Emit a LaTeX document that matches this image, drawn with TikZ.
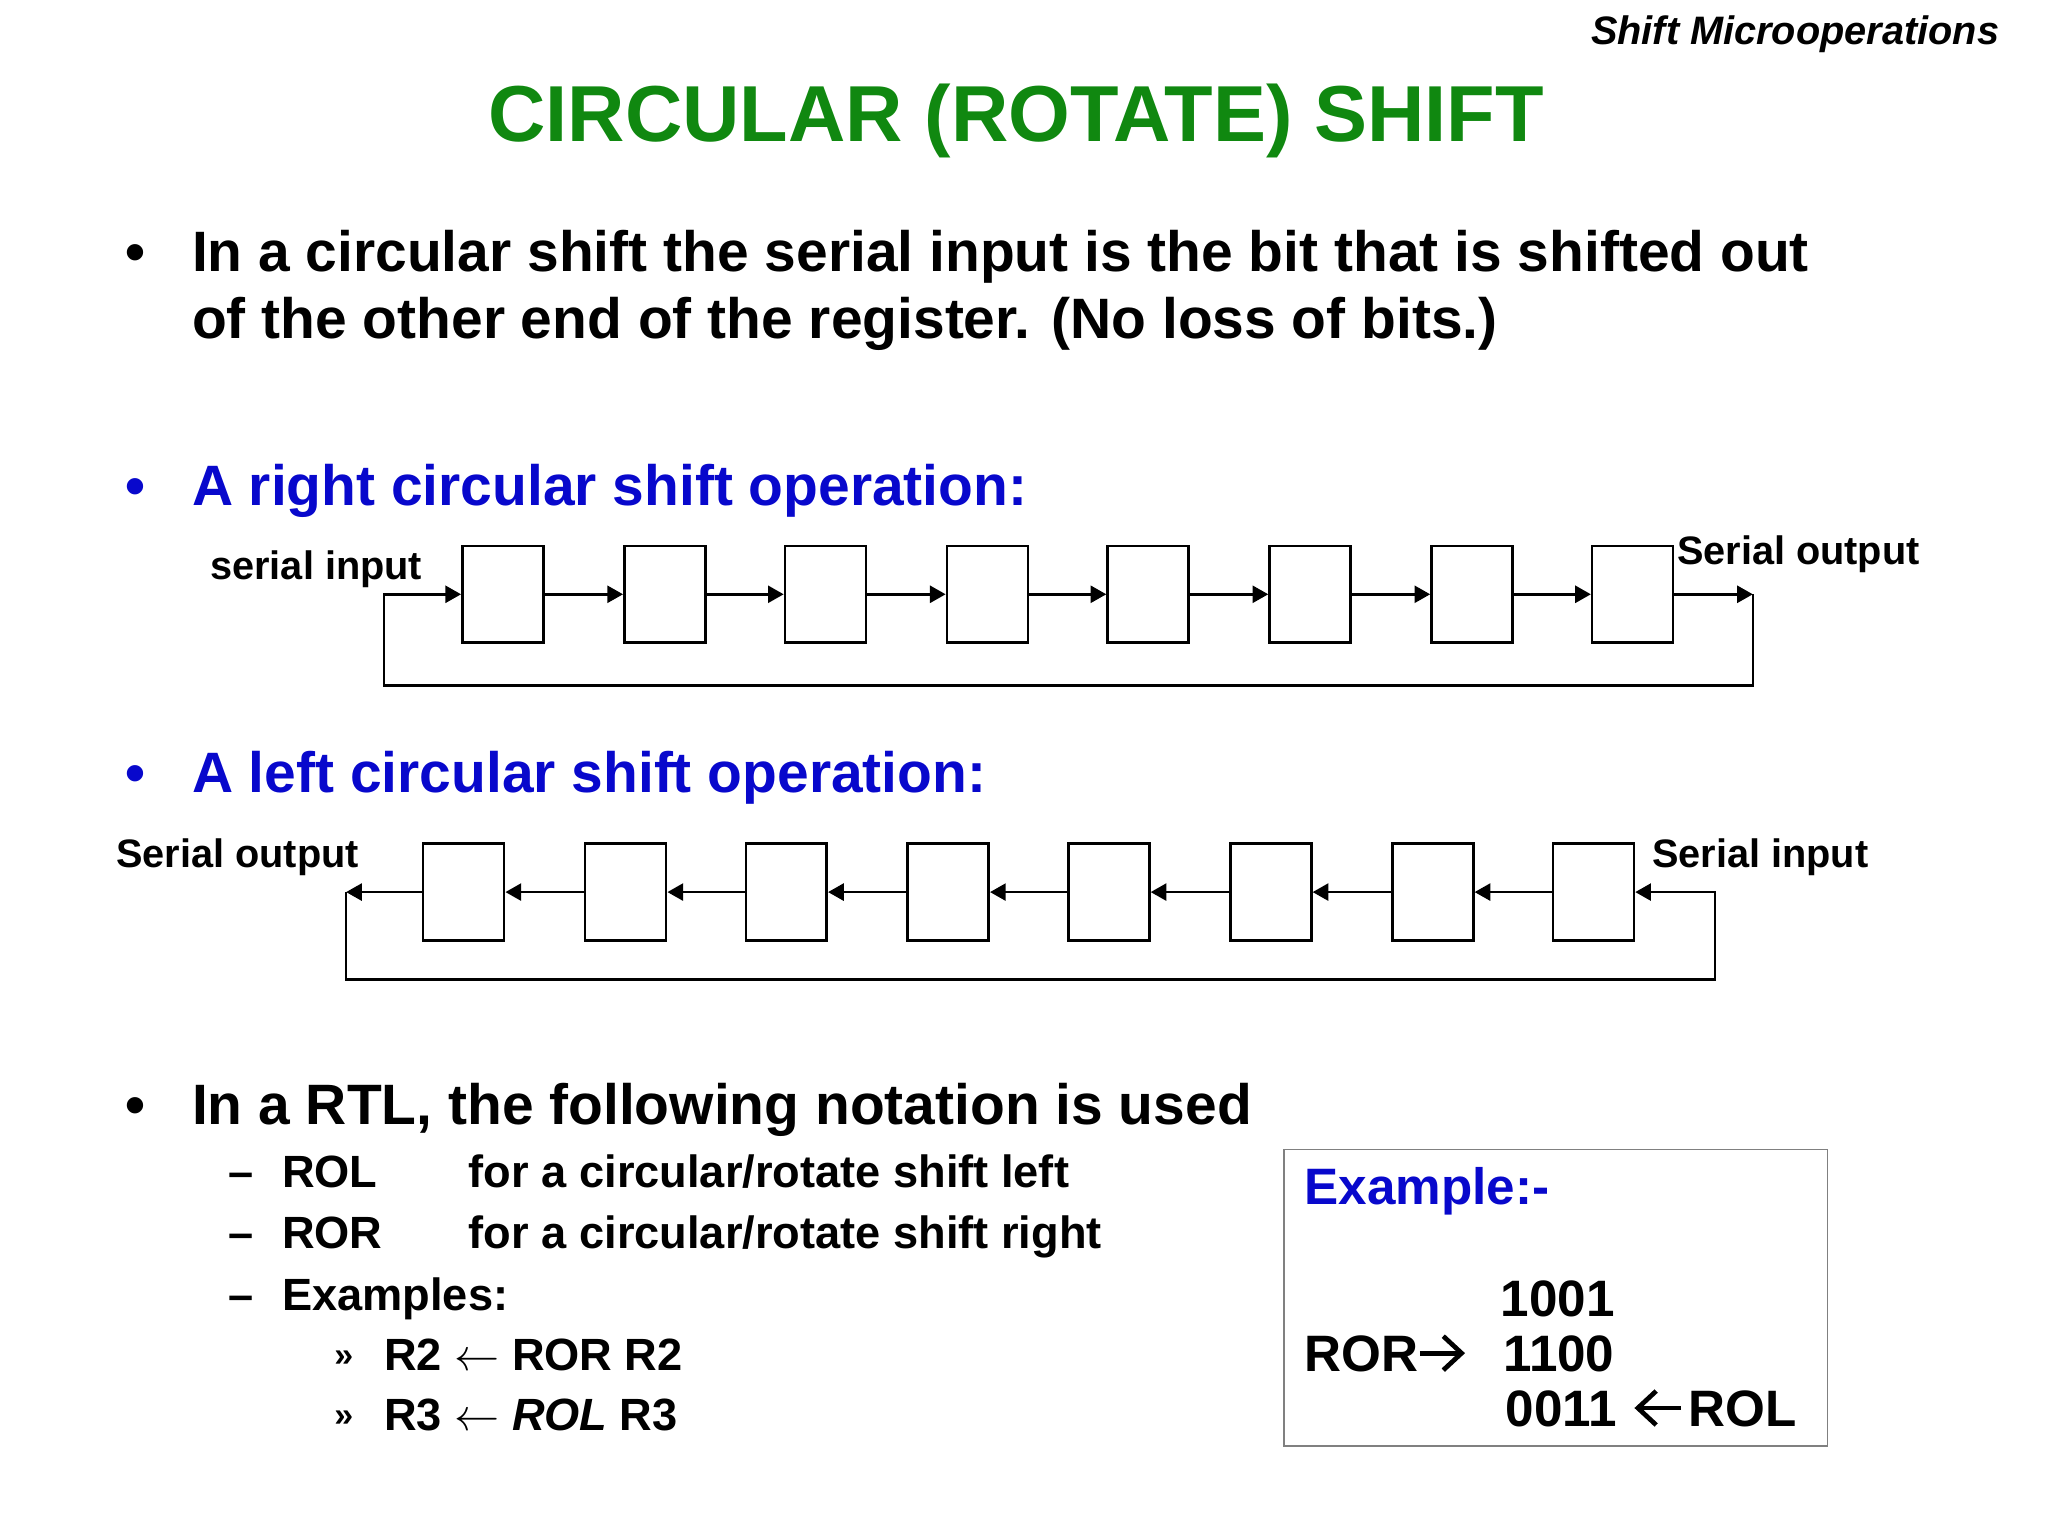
\documentclass[tikz,border=0pt]{standalone}
\usepackage{fontspec}
\setmainfont{Liberation Sans}
\usetikzlibrary{arrows.meta}
\definecolor{ttlgreen}{RGB}{16,136,16}
\definecolor{hdblue}{RGB}{8,8,204}
\begin{document}
\begin{tikzpicture}[x=0.5pt,y=-0.5pt,
  txt/.style={anchor=base west,inner sep=0pt,outer sep=0pt},
  fbul/.style={font=\bfseries\fontsize{21.8pt}{26pt}\selectfont},
  flab/.style={font=\bfseries\fontsize{15.2pt}{18pt}\selectfont},
  fsub/.style={font=\bfseries\fontsize{17.3pt}{21pt}\selectfont},
  fexb/.style={font=\bfseries\fontsize{19.6pt}{23pt}\selectfont},
  reg/.style={draw,line width=1pt,minimum width=31pt,minimum height=37pt,inner sep=0pt},
  arr/.style={line width=1pt,-{Triangle[length=6pt,width=6.5pt]}},
  bigarrow/.style={line width=1.8pt,line join=miter,line cap=butt},
  bul/.style={anchor=base,inner sep=0pt,fbul}]
\useasboundingbox (0,0) rectangle (1568,1176);

% header and title
\node[anchor=base east,inner sep=0pt,font=\bfseries\itshape\fontsize{15.2pt}{18pt}\selectfont] (hdr) at (1531,34) {Shift Microoperations};
\node[anchor=base,inner sep=0pt,text=ttlgreen,font=\bfseries\fontsize{30.4pt}{36pt}\selectfont] (title) at (778,108) {CIRCULAR (ROTATE) SHIFT};

% bullet 1
\node[bul] (b1) at (104,208) {•};
\node[txt,fbul] (t1a) at (147,208) {In a circular shift the serial input is the bit that is shifted out};
\node[txt,fbul] (t1b) at (147,259) {of the other end of the register. (No loss of bits.)};

% bullet 2
\node[bul,text=hdblue] (b2) at (104,387) {•};
\node[txt,fbul,text=hdblue] (t2) at (147,387) {A right circular shift operation:};

% right circular shift diagram
\node[txt,flab] (rin) at (161,444) {serial input};
\node[txt,flab] (rout) at (1284,432) {Serial output};
\foreach \i/\x in {1/385,2/509,3/632,4/756,5/879,6/1003,7/1127,8/1250}
  \node[reg] (r\i) at (\x,455) {};
\foreach \i in {1,...,7}{
  \pgfmathtruncatemacro\j{\i+1}
  \draw[arr] (r\i.east) -- (r\j.west);
}
\coordinate (ro) at (1342,455);
\coordinate (rob) at (1342,525);
\coordinate (rib) at (294,525);
\coordinate (ri) at (294,455);
\draw[arr] (r8.east) -- (ro);
\draw[arr] (ro) -- (rob) -- (rib) -- (ri) -- (r1.west);

% bullet 3
\node[bul,text=hdblue] (b3) at (104,607) {•};
\node[txt,fbul,text=hdblue] (t3) at (147,607) {A left circular shift operation:};

% left circular shift diagram
\node[txt,flab] (lout) at (89,664) {Serial output};
\node[txt,flab] (lin) at (1265,664) {Serial input};
\foreach \i/\x in {1/355,2/479,3/602,4/726,5/849,6/973,7/1097,8/1220}
  \node[reg] (l\i) at (\x,683) {};
\foreach \i in {1,...,7}{
  \pgfmathtruncatemacro\j{\i+1}
  \draw[arr] (l\j.west) -- (l\i.east);
}
\coordinate (lo) at (265,683);
\coordinate (lob) at (265,750);
\coordinate (lib) at (1313,750);
\coordinate (li) at (1313,683);
\draw[arr] (l1.west) -- (lo);
\draw[arr] (lo) -- (lob) -- (lib) -- (li) -- (l8.east);

% bullet 4
\node[bul] (b4) at (104,861) {•};
\node[txt,fbul] (t4) at (147,861) {In a RTL, the following notation is used};

\node[txt,fsub] (d1) at (175,909) {–};
\node[txt,fsub] (rol) at (216,909) {ROL};
\node[txt,fsub] (rold) at (359,909) {for a circular/rotate shift left};
\node[txt,fsub] (d2) at (175,956) {–};
\node[txt,fsub] (ror) at (216,956) {ROR};
\node[txt,fsub] (rord) at (359,956) {for a circular/rotate shift right};
\node[txt,fsub] (d3) at (175,1003) {–};
\node[txt,fsub] (exs) at (216,1003) {Examples:};
\node[txt,font=\bfseries\fontsize{13pt}{16pt}\selectfont] (q1) at (256,1046) {»};
\node[txt,fsub] (e1) at (294,1049) {R2 $\leftarrow$ ROR R2};
\node[txt,font=\bfseries\fontsize{13pt}{16pt}\selectfont] (q2) at (256,1092) {»};
\node[txt,fsub] (e2) at (294,1095) {R3 $\leftarrow$ \textit{ROL} R3};

% example box
\node[draw=black!50,line width=0.6pt,minimum width=208pt,minimum height=113.5pt,inner sep=0pt] (exbox) at (1191,993.5) {};
\node[txt,fexb,text=hdblue] (exh) at (999,922) {Example:-};
\node[txt,fexb] (v1) at (1149,1008) {1001};
\node[txt,fexb] (v2l) at (999,1050) {ROR};
\draw[bigarrow] (1087,1036) -- (1118,1036);
\draw[bigarrow] (1105,1023) -- (1119,1036) -- (1105,1049);
\node[txt,fexb] (v2) at (1151,1050) {1100};
\node[txt,fexb] (v3) at (1153,1092) {0011};
\draw[bigarrow] (1287,1078) -- (1255,1078);
\draw[bigarrow] (1268,1065) -- (1254,1078) -- (1268,1091);
\node[txt,fexb] (v3r) at (1293,1092) {ROL};
\end{tikzpicture}
\end{document}
